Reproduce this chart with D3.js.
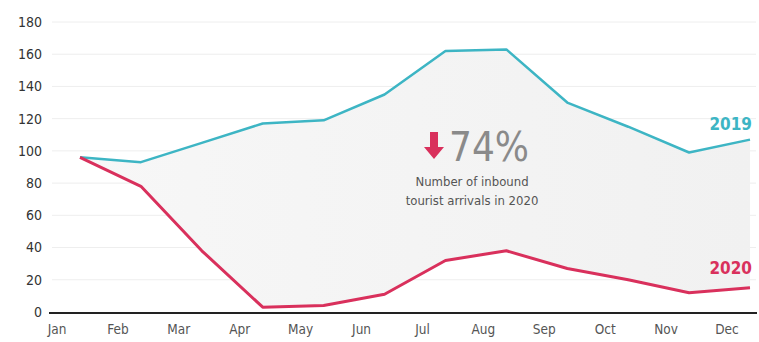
<!DOCTYPE html>
<html><head><meta charset="utf-8">
<script src="https://cdn.jsdelivr.net/npm/d3@7"></script>
<style>
body{margin:0;background:#fff;}
svg{display:block;}
text{font-family:"DejaVu Sans Condensed","DejaVu Sans",sans-serif;font-stretch:condensed;}
</style></head>
<body>
<svg id="chart" width="759" height="342"></svg>
<script>
const months = ["Jan","Feb","Mar","Apr","May","Jun","Jul","Aug","Sep","Oct","Nov","Dec"];
const arrivals2019 = [96, 93, 105, 117, 119, 135, 162, 163, 130, 115, 99, 107];
const arrivals2020 = [96, 78, 38, 3, 4, 11, 32, 38, 27, 20, 12, 15];
const yTicks = [0, 20, 40, 60, 80, 100, 120, 140, 160, 180];
const seriesNames = ["2019", "2020"];

const svg = d3.select("#chart");
const x = d3.scaleLinear().domain([0, 11]).range([80, 750]);
const xLab = d3.scaleLinear().domain([0, 11]).range([57, 727]);
const y = d3.scaleLinear().domain([0, 180]).range([312, 22]);

const teal = "#3db5c4", red = "#d9305c";

// gridlines
svg.append("g").selectAll("line").data(yTicks.filter(d => d > 0)).join("line")
  .attr("x1", 52).attr("x2", 756)
  .attr("y1", d => y(d)).attr("y2", d => y(d))
  .attr("stroke", "#eeeeee").attr("stroke-width", 1);

// fill between
const defs = svg.append("defs");
const grad = defs.append("linearGradient").attr("id", "fillg").attr("x1", "0").attr("x2", "1");
grad.append("stop").attr("offset", "0").attr("stop-color", "#f7f7f7");
grad.append("stop").attr("offset", "1").attr("stop-color", "#f1f1f1");
const area = d3.area().x((d, i) => x(i)).y0((d, i) => y(arrivals2020[i])).y1(d => y(d));
svg.append("path").datum(arrivals2019).attr("d", area).attr("fill", "url(#fillg)");

// y tick labels
svg.append("g").selectAll("text").data(yTicks).join("text")
  .attr("x", 42).attr("y", d => y(d)).attr("dy", "0.35em")
  .attr("text-anchor", "end").attr("font-size", 14).attr("fill", "#333")
  .text(d => d);

// x labels
svg.append("g").selectAll("text").data(months).join("text")
  .attr("x", (d, i) => xLab(i)).attr("y", 334)
  .attr("text-anchor", "middle").attr("font-size", 13.5).attr("fill", "#555")
  .text(d => d);

// axis baseline
svg.append("line").attr("x1", 49).attr("x2", 757).attr("y1", y(0) + 1).attr("y2", y(0) + 1)
  .attr("stroke", "#222").attr("stroke-width", 2);

// lines
const line = d3.line().x((d, i) => x(i)).y(d => y(d));
svg.append("path").datum(arrivals2019).attr("d", line).attr("fill", "none")
  .attr("stroke", teal).attr("stroke-width", 2.5).attr("stroke-linejoin", "round");
svg.append("path").datum(arrivals2020).attr("d", line).attr("fill", "none")
  .attr("stroke", red).attr("stroke-width", 3).attr("stroke-linejoin", "round");

// series labels
svg.append("text").attr("x", 752).attr("y", 130).attr("text-anchor", "end")
  .attr("font-size", 17).attr("font-weight", "bold").attr("fill", teal).text(seriesNames[0]);
svg.append("text").attr("x", 752).attr("y", 274).attr("text-anchor", "end")
  .attr("font-size", 17).attr("font-weight", "bold").attr("fill", red).text(seriesNames[1]);

// annotation
const ax = 434;
svg.append("path")
  .attr("d", `M${ax-4},132 L${ax+4},132 L${ax+4},147 L${ax+10},147 L${ax},159 L${ax-10},147 L${ax-4},147 Z`)
  .attr("fill", red);
svg.append("text").attr("x", 449).attr("y", 161).attr("font-size", 40)
  .attr("fill", "#8a8a8a").text("74%");
svg.append("text").attr("x", 472).attr("y", 186).attr("text-anchor", "middle")
  .attr("font-size", 13).attr("fill", "#555").text("Number of inbound");
svg.append("text").attr("x", 472).attr("y", 205).attr("text-anchor", "middle")
  .attr("font-size", 13).attr("fill", "#555").text("tourist arrivals in 2020");
</script>
</body></html>
